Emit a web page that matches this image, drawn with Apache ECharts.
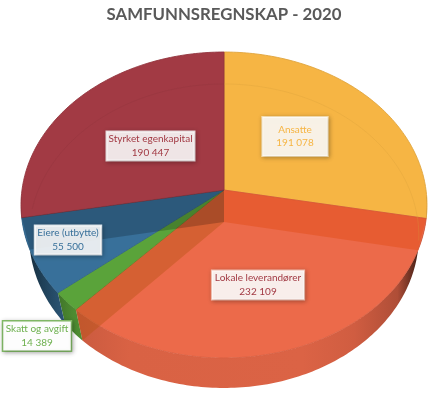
<!DOCTYPE html>
<html><head><meta charset="utf-8">
<style>html,body{margin:0;padding:0;background:#fff}#c{width:432px;height:400px}</style>
<script src="https://cdn.jsdelivr.net/npm/echarts@6/dist/echarts.min.js"></script>
</head><body><div id="c"></div>
<script>
const chartTitle = 'SAMFUNNSREGNSKAP - 2020';
const categories = ['Ansatte', 'Lokale leverandører', 'Skatt og avgift', 'Eiere (utbytte)', 'Styrket egenkapital'];
const values = [191078, 232109, 14389, 55500, 190447];

const colors = ['#F6B544', '#EC6A4A', '#5AA33A', '#38709A', '#A23A44'];
const textColors = ['#F6B544', '#A23A44', '#6DB04E', '#38709A', '#A23A44'];
const boxFills = ['rgba(255,255,255,0.88)', 'rgba(255,255,255,0.9)', 'rgba(255,255,255,0.96)', 'rgba(255,255,255,0.88)', 'rgba(255,255,255,0.88)'];
const boxBorders = ['#FCE3B4', '#F8C0B0', '#84BC68', '#DCE6EE', '#E8D8DA'];
const boxBorderW = [1, 1, 1.5, 1, 1];
const labelAnchors = [[295, 136.5], [258, 285], [37, 336], [68, 240], [150.5, 146]];
const labelPad = [[6, 14], [1, 3], [1, 2.5], [1, 2.5], [1, 2]];

const topPlane = { cx: 224, cy: 190, R: 202, k: 151.5, p: 0.098 };
const basePlane = { cx: 224, cy: 222, R: 194, k: 150.7, p: 0.092 };

const total = values.reduce((a, b) => a + b, 0);
function angles(i) {
  let s = 0;
  for (let j = 0; j < i; j++) s += values[j];
  return [s / total * 360, (s + values[i]) / total * 360];
}
function project(deg, pl) {
  const t = deg * Math.PI / 180, u = Math.sin(t), v = -Math.cos(t);
  const s = 1 / (1 - pl.p * v);
  return [pl.cx + pl.R * u * s, pl.cy + pl.k * v * s];
}
function rim(a, b, pl) {
  const pts = [], n = Math.max(2, Math.ceil(Math.abs(b - a)));
  for (let i = 0; i <= n; i++) pts.push(project(a + (b - a) * i / n, pl));
  return pts;
}
function hexRgb(h) { return [1, 3, 5].map(i => parseInt(h.substr(i, 2), 16)); }
function shade(h, t) {
  const c = hexRgb(h).map(x => Math.round(x * (1 - t)));
  return 'rgb(' + c.join(',') + ')';
}
const wallStops = [[0.05, 0.7], [0.1, 0.42], [0.17, 0.15], [0.3, 0.08], [0.7, 0.07], [0.82, 0.12], [0.92, 0.26], [0.97, 0.72]];
function wallGradient(h) {
  return { type: 'linear', x: 0, y: 0, x2: 432, y2: 0, global: true,
    colorStops: wallStops.map(s => ({ offset: s[0], color: shade(h, s[1]) })) };
}
const rows = values.map((v, i) => [i, v]);

function renderWalls(params, api) {
  const i = api.value(0), ang = angles(i);
  const a = Math.max(ang[0], 92), b = Math.min(ang[1], 268);
  if (a >= b) return { type: 'group', children: [] };
  const pts = rim(a, b, topPlane).concat(rim(a, b, basePlane).reverse());
  return { type: 'polygon', shape: { points: pts }, style: { fill: wallGradient(colors[i]), stroke: null } };
}
function renderTop(params, api) {
  const i = api.value(0), ang = angles(i);
  const pts = [[topPlane.cx, topPlane.cy]].concat(rim(ang[0], ang[1], topPlane));
  return { type: 'polygon', shape: { points: pts },
    style: { fill: colors[i], stroke: shade(colors[i], 0.09), lineWidth: 0.9 } };
}
const wallTints = ['rgba(224,74,16,0.42)', 'rgba(180,84,20,0.42)', null, 'rgba(0,0,0,0.2)', null];
function renderInner(params, api) {
  const i = api.value(0), ang = angles(i), kids = [];
  if (wallTints[i]) {
    const e = ang[1];
    kids.push({ type: 'polygon', shape: { points: [[topPlane.cx, topPlane.cy], project(e, topPlane), project(e, basePlane), [basePlane.cx, basePlane.cy]] },
      style: { fill: wallTints[i] } });
  }
  const s = Math.max(ang[0], 0), en = ang[1];
  const arc = (i === 0) ? rim(s, Math.min(en, 97), basePlane) : (i === 4 ? rim(Math.max(s, 275), en, basePlane) : null);
  if (arc) kids.push({ type: 'polyline', shape: { points: arc }, style: { fill: null, stroke: shade(colors[i], 0.14), lineWidth: 0.8, opacity: 0.35 } });
  return { type: 'group', children: kids };
}
function fmt(v) { return String(v).replace(/\B(?=(\d{3})+$)/g, ' '); }
function renderLabel(params, api) {
  const i = api.value(0), pos = labelAnchors[i], pad = labelPad[i];
  return { type: 'text', x: pos[0], y: pos[1], z2: 10,
    style: { text: categories[i] + '\n' + fmt(api.value(1)), fill: textColors[i],
      font: '10px Lato, Carlito, sans-serif', lineHeight: 13.5, align: 'center', verticalAlign: 'middle',
      backgroundColor: boxFills[i], borderColor: boxBorders[i], borderWidth: boxBorderW[i],
      padding: [pad[0], pad[1]], shadowBlur: 4, shadowOffsetX: 1, shadowOffsetY: 1, shadowColor: 'rgba(0,0,0,0.25)' } };
}
function layer(fn, z) {
  return { type: 'custom', coordinateSystem: 'none', renderItem: fn, data: rows, z: z, silent: true, animation: false, clip: false };
}
const chart = echarts.init(document.getElementById('c'), null, { renderer: 'canvas' });
chart.setOption({
  animation: false,
  backgroundColor: '#fff',
  title: { text: chartTitle, left: 219, textAlign: 'center', top: 1,
    textStyle: { fontFamily: 'Lato, Carlito, sans-serif', fontSize: 16.8, fontWeight: 'bold', color: '#595959' } },
  series: [layer(renderWalls, 1), layer(renderTop, 2), layer(renderInner, 3), layer(renderLabel, 4)]
});
</script></body></html>
